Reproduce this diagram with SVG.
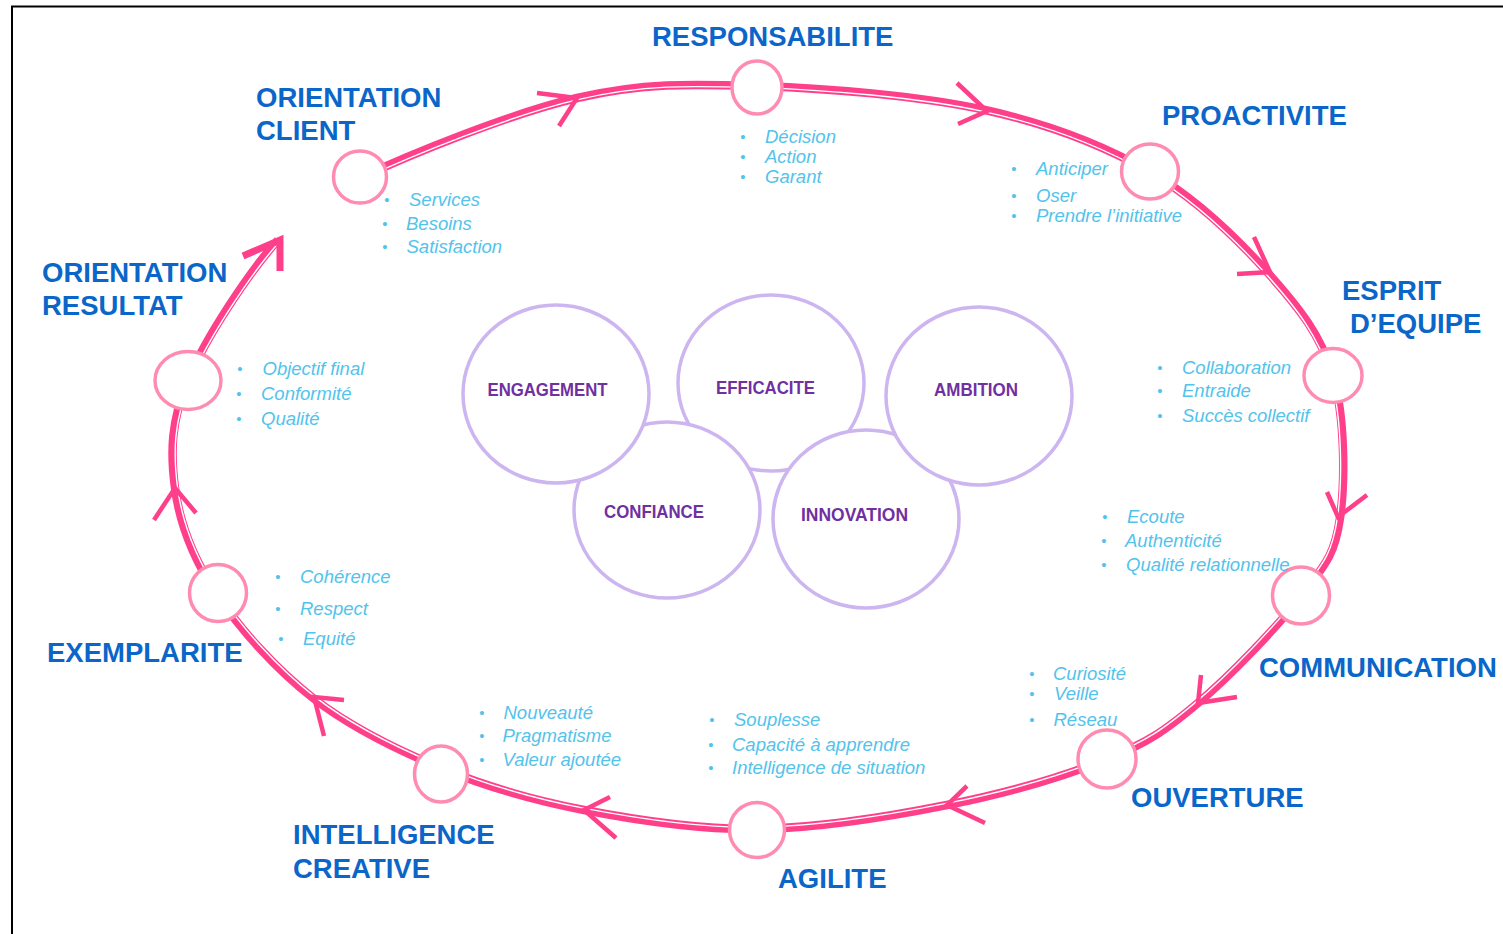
<svg xmlns="http://www.w3.org/2000/svg" xmlns:xlink="http://www.w3.org/1999/xlink" width="1503" height="934" viewBox="0 0 1503 934">
<style>
.title{font-family:"Liberation Sans",Arial,sans-serif;font-weight:bold;font-size:27.5px;fill:#0A66C8}
.item{font-family:"Liberation Sans",Arial,sans-serif;font-style:italic;font-size:18.5px;fill:#52C3EC}
.bul{font-family:"Liberation Sans",Arial,sans-serif;font-size:15px;fill:#52C3EC;text-anchor:middle}
.node{fill:#FFFFFF;stroke:#FF8CB0;stroke-width:3.5}
.val{fill:#FFFFFF;stroke:#CDB5F0;stroke-width:3.5}
.vlab{font-family:"Liberation Sans",Arial,sans-serif;font-weight:bold;font-size:18.5px;fill:#7030A0}
.chev{fill:none;stroke:#FF3F8A;stroke-width:4.5;stroke-linejoin:miter;stroke-linecap:butt}
</style>
<defs>
<path id="ring" d="M360,178 C409.83,154.67 510.83,113.33 577,98 C643.17,82.67 689,84 757,86 C825,88 919.5,95.67 985,110 C1050.5,124.33 1102.83,144.83 1150,172 C1197.17,199.17 1237.5,239 1268,273 C1298.5,307 1321,335.17 1333,376 C1345,416.83 1345.17,481.5 1340,518 C1334.83,554.5 1325.67,564.17 1302,595 C1278.33,625.83 1230.5,675.67 1198,703 C1165.5,730.33 1148.83,742 1107,759 C1065.17,776 1005.33,793.33 947,805 C888.67,816.67 817.5,828.17 757,829 C696.5,829.83 636.67,820.17 584,810 C531.33,799.83 486.17,786.67 441,768 C395.83,749.33 350.5,727.17 313,698 C275.5,668.83 239,628 216,593 C193,558 179.67,523.5 175,488 C170.33,452.5 170.83,421.67 188,380 C205.17,338.33 249.33,271.67 278,240"/>
</defs>
<rect x="0" y="0" width="1503" height="934" fill="#FFFFFF"/>
<path d="M12,934 V6.5 H1503" fill="none" stroke="#000000" stroke-width="2"/>

<g id="connectors">
<use xlink:href="#ring" href="#ring" fill="none" stroke="#FF3F8A" stroke-width="8.5"/>
<use xlink:href="#ring" href="#ring" fill="none" stroke="#FFFFFF" stroke-width="1.4" transform="translate(760,458) scale(0.9955) translate(-760,-458)"/>
<polyline class="chev" points="537,93 577,98 559,126"/>
<polyline class="chev" points="957,83 987,111 958,124"/>
<polyline class="chev" points="1254,237 1270,272 1237,274"/>
<polyline class="chev" points="1327,492 1338,517 1367,495"/>
<polyline class="chev" points="1201,675 1198,703 1237,697"/>
<polyline class="chev" points="967,786 947,805 985,823"/>
<polyline class="chev" points="610,797 584,810 616,838"/>
<polyline class="chev" points="344,700 314,697 324,736"/>
<polyline class="chev" points="154,520 175,488 196,513"/>
<polyline class="chev" style="stroke-width:7" points="243,256 280,240 280,271"/>
</g>

<g id="values">
<g id="efficacite"><ellipse class="val" cx="771" cy="383" rx="93" ry="88"/><text class="vlab" x="765.5" y="394" text-anchor="middle" textLength="99" lengthAdjust="spacingAndGlyphs">EFFICACITE</text></g>
<g id="confiance"><ellipse class="val" cx="667" cy="510" rx="93" ry="88"/><text class="vlab" x="654" y="518" text-anchor="middle" textLength="100" lengthAdjust="spacingAndGlyphs">CONFIANCE</text></g>
<g id="innovation"><ellipse class="val" cx="866" cy="519" rx="93" ry="89"/><text class="vlab" x="854.5" y="520.5" text-anchor="middle" textLength="107" lengthAdjust="spacingAndGlyphs">INNOVATION</text></g>
<g id="engagement"><ellipse class="val" cx="556" cy="394" rx="93" ry="89"/><text class="vlab" x="547.5" y="395.5" text-anchor="middle" textLength="120" lengthAdjust="spacingAndGlyphs">ENGAGEMENT</text></g>
<g id="ambition"><ellipse class="val" cx="979" cy="396" rx="93" ry="89"/><text class="vlab" x="976" y="395.5" text-anchor="middle" textLength="84" lengthAdjust="spacingAndGlyphs">AMBITION</text></g>
</g>

<g id="orientation-client">
<ellipse class="node" cx="360" cy="177" rx="26.5" ry="26"/>
<text class="title" x="256" y="107">ORIENTATION</text>
<text class="title" x="256" y="140">CLIENT</text>
<text class="bul" x="387" y="205">•</text><text class="item" x="409" y="205.5">Services</text>
<text class="bul" x="385" y="229">•</text><text class="item" x="406" y="229.5">Besoins</text>
<text class="bul" x="385" y="252">•</text><text class="item" x="406.5" y="252.5">Satisfaction</text>
</g>

<g id="responsabilite">
<ellipse class="node" cx="757" cy="87.5" rx="25" ry="26.5"/>
<text class="title" x="652" y="46">RESPONSABILITE</text>
<text class="bul" x="743" y="142">•</text><text class="item" x="765" y="142.5">Décision</text>
<text class="bul" x="743" y="162">•</text><text class="item" x="765" y="162.5">Action</text>
<text class="bul" x="743" y="182">•</text><text class="item" x="765" y="182.5">Garant</text>
</g>

<g id="proactivite">
<ellipse class="node" cx="1150" cy="171.5" rx="28.5" ry="27.5"/>
<text class="title" x="1162" y="125">PROACTIVITE</text>
<text class="bul" x="1014" y="174">•</text><text class="item" x="1036" y="174.5">Anticiper</text>
<text class="bul" x="1014" y="201">•</text><text class="item" x="1036" y="201.5">Oser</text>
<text class="bul" x="1014" y="221">•</text><text class="item" x="1036" y="221.5">Prendre l’initiative</text>
</g>

<g id="esprit-equipe">
<ellipse class="node" cx="1333" cy="375.5" rx="29" ry="27"/>
<text class="title" x="1342" y="300">ESPRIT</text>
<text class="title" x="1350" y="333">D’EQUIPE</text>
<text class="bul" x="1160" y="373">•</text><text class="item" x="1182" y="373.5">Collaboration</text>
<text class="bul" x="1160" y="396">•</text><text class="item" x="1182" y="396.5">Entraide</text>
<text class="bul" x="1160" y="421">•</text><text class="item" x="1182" y="421.5">Succès collectif</text>
</g>

<g id="communication">
<ellipse class="node" cx="1301" cy="595.5" rx="28.5" ry="28.5"/>
<text class="title" x="1259" y="677">COMMUNICATION</text>
<text class="bul" x="1105" y="522">•</text><text class="item" x="1127" y="522.5">Ecoute</text>
<text class="bul" x="1104" y="546">•</text><text class="item" x="1125" y="546.5">Authenticité</text>
<text class="bul" x="1104" y="570">•</text><text class="item" x="1126" y="570.5">Qualité relationnelle</text>
</g>

<g id="ouverture">
<ellipse class="node" cx="1107" cy="759" rx="29" ry="29"/>
<text class="title" x="1131" y="807">OUVERTURE</text>
<text class="bul" x="1032" y="679">•</text><text class="item" x="1053" y="679.5">Curiosité</text>
<text class="bul" x="1032" y="699">•</text><text class="item" x="1054" y="699.5">Veille</text>
<text class="bul" x="1032" y="725">•</text><text class="item" x="1053.5" y="725.5">Réseau</text>
</g>

<g id="agilite">
<ellipse class="node" cx="757" cy="830" rx="27.5" ry="27.5"/>
<text class="title" x="778" y="888">AGILITE</text>
<text class="bul" x="712" y="725">•</text><text class="item" x="734" y="725.5">Souplesse</text>
<text class="bul" x="711" y="750">•</text><text class="item" x="732" y="750.5">Capacité à apprendre</text>
<text class="bul" x="711" y="773">•</text><text class="item" x="732" y="773.5">Intelligence de situation</text>
</g>

<g id="intelligence-creative">
<ellipse class="node" cx="441" cy="774" rx="26.5" ry="28"/>
<text class="title" x="293" y="844">INTELLIGENCE</text>
<text class="title" x="293" y="878">CREATIVE</text>
<text class="bul" x="482" y="718">•</text><text class="item" x="503.5" y="718.5">Nouveauté</text>
<text class="bul" x="482" y="741">•</text><text class="item" x="502.5" y="741.5">Pragmatisme</text>
<text class="bul" x="482" y="765">•</text><text class="item" x="502.5" y="765.5">Valeur ajoutée</text>
</g>

<g id="exemplarite">
<ellipse class="node" cx="218" cy="593" rx="28.5" ry="28.5"/>
<text class="title" x="47" y="662">EXEMPLARITE</text>
<text class="bul" x="278" y="582">•</text><text class="item" x="300" y="582.5">Cohérence</text>
<text class="bul" x="278" y="614">•</text><text class="item" x="300" y="614.5">Respect</text>
<text class="bul" x="281" y="644">•</text><text class="item" x="303" y="644.5">Equité</text>
</g>

<g id="orientation-resultat">
<ellipse class="node" cx="188" cy="380.5" rx="33" ry="29"/>
<text class="title" x="42" y="282">ORIENTATION</text>
<text class="title" x="42" y="315">RESULTAT</text>
<text class="bul" x="240" y="374">•</text><text class="item" x="262.5" y="374.5">Objectif final</text>
<text class="bul" x="239" y="399">•</text><text class="item" x="261" y="399.5">Conformité</text>
<text class="bul" x="239" y="424">•</text><text class="item" x="261" y="424.5">Qualité</text>
</g>
</svg>
